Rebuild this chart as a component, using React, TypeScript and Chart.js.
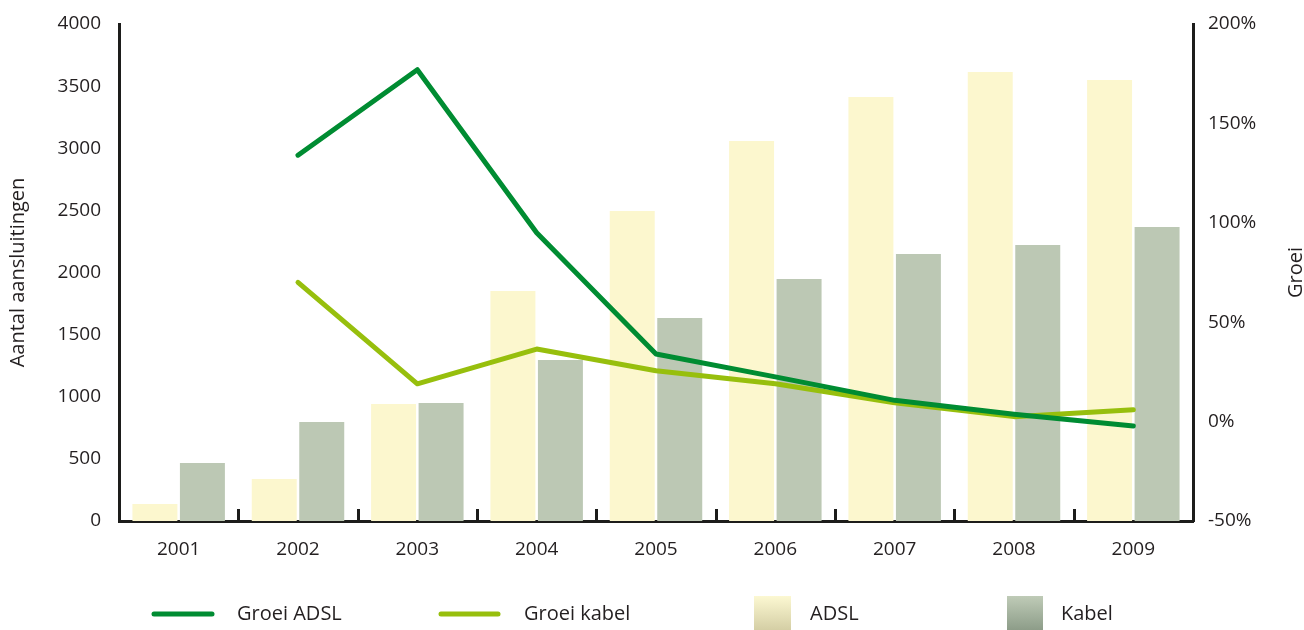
import { useEffect, useRef } from 'react';
import { Chart, registerables } from 'chart.js';

Chart.register(...registerables);

// Broadband connections per year (x 1000) and year-on-year growth (%)
const years = ['2001', '2002', '2003', '2004', '2005', '2006', '2007', '2008', '2009'];
const adslConnections = [137, 338, 942, 1851, 2495, 3058, 3412, 3614, 3549];
const kabelConnections = [467, 797, 950, 1296, 1634, 1948, 2149, 2221, 2366];
const adslGrowth = [null, 134, 177, 95, 34, 22.5, 10.7, 3.7, -2.2];
const kabelGrowth = [null, 70, 19, 36.5, 25.6, 19, 9.5, 2.5, 6];

const leftAxisRange = [0, 4000];
const leftAxisStep = 500;
const rightAxisRange = [-50, 200];
const rightAxisStep = 50;

const leftTitle = 'Aantal aansluitingen';
const rightTitle = 'Groei';
const legendLabels = ['Groei ADSL', 'Groei kabel', 'ADSL', 'Kabel'];

const W = 1304;
const H = 630;
const FONT = '"Open Sans", "Noto Sans", sans-serif';
const TEXT = '#231f20';
const AXIS = '#1d1d1b';
const ADSL_BAR = '#fcf7ce';
const KABEL_BAR = '#bcc8b4';
const ADSL_LINE = '#008c32';
const KABEL_LINE = '#97bf0d';

// Short boundary marks on the category axis, axis titles and the legend row
const decorations = {
  id: 'decorations',
  afterDraw(chart: any) {
    const { ctx, chartArea } = chart;
    const x = chart.scales.x;
    ctx.save();

    // boundary marks between years, pointing up into the plot
    ctx.strokeStyle = AXIS;
    ctx.lineWidth = 3;
    for (let i = 1; i < years.length; i++) {
      const px = Math.round((x.getPixelForTick(i - 1) + x.getPixelForTick(i)) / 2) + 0.5;
      ctx.beginPath();
      ctx.moveTo(px, chartArea.bottom);
      ctx.lineTo(px, chartArea.bottom - 12);
      ctx.stroke();
    }

    // vertical axis titles
    const midY = (chartArea.top + chartArea.bottom) / 2;
    ctx.fillStyle = TEXT;
    ctx.font = `20px ${FONT}`;
    ctx.textAlign = 'center';
    ctx.textBaseline = 'middle';
    ctx.save();
    ctx.translate(18, midY);
    ctx.rotate(-Math.PI / 2);
    ctx.fillText(leftTitle, 0, 0);
    ctx.restore();
    ctx.save();
    ctx.translate(1296, midY);
    ctx.rotate(-Math.PI / 2);
    ctx.fillText(rightTitle, 0, 0);
    ctx.restore();

    // legend
    const ly = 614;
    ctx.textAlign = 'left';
    ctx.lineCap = 'round';
    ctx.lineWidth = 5;
    ctx.strokeStyle = ADSL_LINE;
    ctx.beginPath();
    ctx.moveTo(154, ly);
    ctx.lineTo(212, ly);
    ctx.stroke();
    ctx.fillText(legendLabels[0], 237, ly);

    ctx.strokeStyle = KABEL_LINE;
    ctx.beginPath();
    ctx.moveTo(441, ly);
    ctx.lineTo(498, ly);
    ctx.stroke();
    ctx.fillText(legendLabels[1], 524, ly);

    const g1 = ctx.createLinearGradient(0, 596, 0, 632);
    g1.addColorStop(0, '#fcf8d2');
    g1.addColorStop(1, '#d2cca2');
    ctx.fillStyle = g1;
    ctx.fillRect(754, 596, 37, 36);
    const g2 = ctx.createLinearGradient(0, 596, 0, 632);
    g2.addColorStop(0, '#bfcbb7');
    g2.addColorStop(1, '#8a9a86');
    ctx.fillStyle = g2;
    ctx.fillRect(1007, 596, 36, 36);

    ctx.fillStyle = TEXT;
    ctx.fillText(legendLabels[2], 810, ly);
    ctx.fillText(legendLabels[3], 1061, ly);

    ctx.restore();
  },
};

export default function App() {
  const ref = useRef<HTMLCanvasElement>(null);

  useEffect(() => {
    document.body.style.margin = '0';
    const canvas = ref.current;
    if (!canvas) return;

    const chart = new Chart(canvas, {
      type: 'bar',
      data: {
        labels: years,
        datasets: [
          {
            type: 'line',
            label: legendLabels[0],
            data: adslGrowth,
            yAxisID: 'y1',
            borderColor: ADSL_LINE,
            borderWidth: 5,
            borderCapStyle: 'round',
            borderJoinStyle: 'round',
            pointRadius: 0,
            tension: 0,
            order: 0,
          },
          {
            type: 'line',
            label: legendLabels[1],
            data: kabelGrowth,
            yAxisID: 'y1',
            borderColor: KABEL_LINE,
            borderWidth: 5,
            borderCapStyle: 'round',
            borderJoinStyle: 'round',
            pointRadius: 0,
            tension: 0,
            order: 1,
          },
          {
            type: 'bar',
            label: legendLabels[2],
            data: adslConnections,
            yAxisID: 'y',
            backgroundColor: ADSL_BAR,
            categoryPercentage: 0.796,
            barPercentage: 0.947,
            order: 2,
          },
          {
            type: 'bar',
            label: legendLabels[3],
            data: kabelConnections,
            yAxisID: 'y',
            backgroundColor: KABEL_BAR,
            categoryPercentage: 0.796,
            barPercentage: 0.947,
            order: 2,
          },
        ],
      },
      options: {
        responsive: false,
        animation: false,
        layout: { padding: { top: 24, left: 0, right: 0, bottom: 0 } },
        plugins: {
          legend: { display: false },
          tooltip: { enabled: false },
        },
        scales: {
          x: {
            offset: true,
            grid: { display: false },
            border: { display: true, color: AXIS, width: 3 },
            ticks: { color: TEXT, font: { family: FONT, size: 19 }, padding: 9, maxRotation: 0 },
            afterFit(s: any) {
              s.height = 109;
            },
          },
          y: {
            position: 'left',
            min: leftAxisRange[0],
            max: leftAxisRange[1],
            grid: { display: false },
            border: { display: true, color: AXIS, width: 3 },
            ticks: {
              stepSize: leftAxisStep,
              color: TEXT,
              font: { family: FONT, size: 19 },
              padding: 10,
              callback: (v: any) => String(v),
            },
            afterFit(s: any) {
              s.width = 119;
            },
          },
          y1: {
            position: 'right',
            min: rightAxisRange[0],
            max: rightAxisRange[1],
            grid: { display: false },
            border: { display: true, color: AXIS, width: 3 },
            ticks: {
              stepSize: rightAxisStep,
              color: TEXT,
              font: { family: FONT, size: 19 },
              padding: 7,
              callback: (v: any) => `${v}%`,
            },
            afterFit(s: any) {
              s.width = 111;
            },
          },
        },
      },
      plugins: [decorations],
    });

    return () => chart.destroy();
  }, []);

  return (
    <div style={{ width: W, height: H }}>
      <canvas ref={ref} width={W} height={H} style={{ display: 'block' }} />
    </div>
  );
}
